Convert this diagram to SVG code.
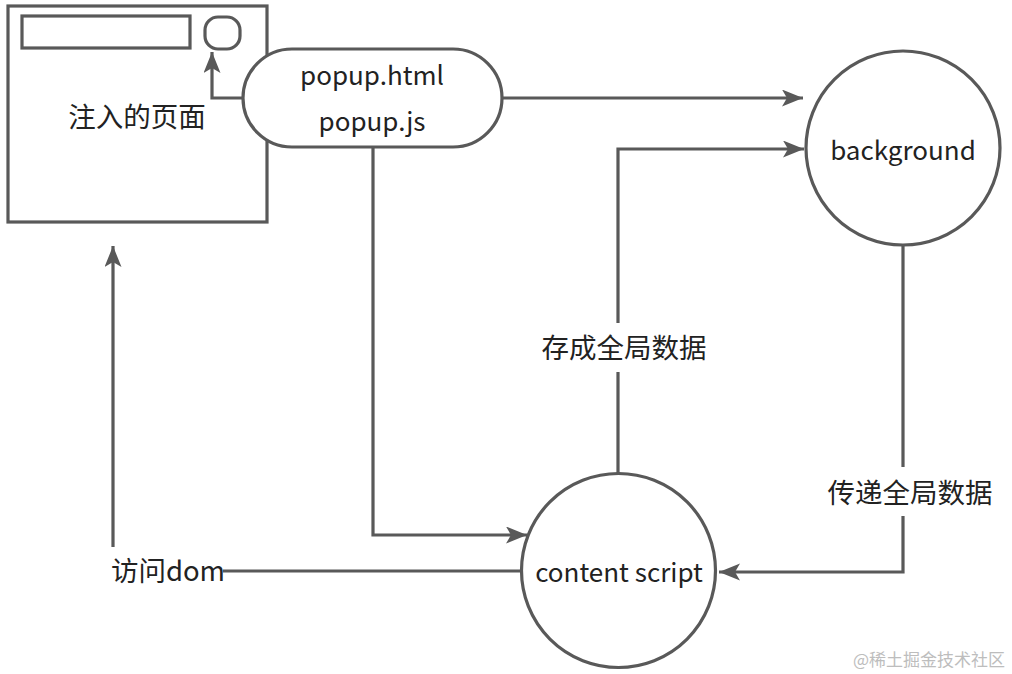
<svg xmlns="http://www.w3.org/2000/svg" width="1012" height="674" viewBox="0 0 1012 674">
<defs>
<marker id="arr" markerUnits="userSpaceOnUse" markerWidth="22" markerHeight="18" refX="21" refY="8.5" orient="auto">
<path d="M0,0 L21,8.5 L0,17 L5,8.5 Z" fill="#595959"/>
</marker>
<style>
.s{fill:none;stroke:#595959;stroke-width:3.2}
.n{fill:#fff;stroke:#595959;stroke-width:3.2}
.t{font-family:"Noto Sans CJK SC","Noto Sans",sans-serif;fill:#222;text-anchor:middle;dominant-baseline:central}
.lt{font-size:26px}
.zh{font-size:27.5px}
.bg{fill:#fff}
</style>
</defs>
<rect width="1012" height="674" fill="#fff"/>
<g id="page">
<rect class="n" x="8" y="6" width="259" height="216"/>
<rect class="n" x="22" y="16" width="168" height="32"/>
<rect class="n" x="205" y="17" width="35" height="32" rx="13"/>
<text class="t zh" x="137" y="115">注入的页面</text>
</g>
<g id="connectors">
<path class="s" d="M243,98 H212 V52" marker-end="url(#arr)"/>
<path class="s" d="M502,98 H803" marker-end="url(#arr)"/>
<path class="s" d="M618,473 V149 H804" marker-end="url(#arr)"/>
<path class="s" d="M903,245 V572 H719" marker-end="url(#arr)"/>
<path class="s" d="M373,147 V535 H527" marker-end="url(#arr)"/>
<path class="s" d="M521,571 H113 V246" marker-end="url(#arr)"/>
<rect class="bg" x="550" y="323" width="140" height="49"/>
<text class="t zh" x="624" y="346">存成全局数据</text>
<rect class="bg" x="830" y="467" width="160" height="49"/>
<text class="t zh" x="910" y="491">传递全局数据</text>
<rect class="bg" x="100" y="547" width="123" height="48"/>
<text class="t zh" x="168" y="569">访问dom</text>
</g>
<g id="popup">
<rect class="n" x="243" y="49" width="259" height="98" rx="49"/>
<text class="t lt" x="372" y="73">popup.html</text>
<text class="t lt" x="372" y="119">popup.js</text>
</g>
<g id="background">
<circle class="n" cx="903" cy="148" r="97"/>
<text class="t lt" x="903" y="148">background</text>
</g>
<g id="content-script">
<circle class="n" cx="618.5" cy="570.5" r="97"/>
<text class="t lt" x="619" y="570">content script</text>
</g>
<text x="1005" y="658" style="font-family:'Noto Sans CJK SC',sans-serif;font-size:17px;fill:#bdbdbd;text-anchor:end;dominant-baseline:central">@稀土掘金技术社区</text>
</svg>
